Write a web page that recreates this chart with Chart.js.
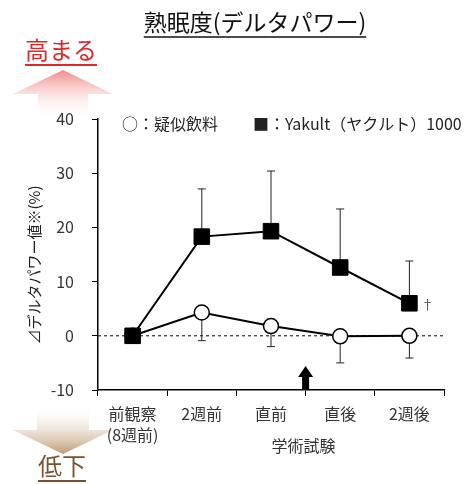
<!DOCTYPE html>
<html>
<head>
<meta charset="utf-8">
<script src="https://cdn.jsdelivr.net/npm/chart.js@4/dist/chart.umd.min.js"></script>
<style>
  html, body { margin: 0; padding: 0; background: #fff; }
  canvas { display: block; }
</style>
</head>
<body>
<canvas id="sleepChart" width="472" height="484"></canvas>
<script>
/* ── Data ── */
const categories  = [['前観察', '(8週前)'], '2週前', '直前', '直後', '2週後'];
const placebo     = [0, 4.3, 1.8, -0.1, 0];
const placeboLow  = [null, -0.9, -2.0, -5.0, -4.1];   // lower end of error bar
const yakult      = [0, 18.3, 19.3, 12.6, 6.0];
const yakultHigh  = [null, 27.1, 30.4, 23.4, 13.8];   // upper end of error bar
const yMin = -10, yMax = 40, yStep = 10;

const FONT = '"Noto Sans CJK JP", "Noto Sans", sans-serif';

/* ── Helpers ── */
function underlinedText(ctx, text, x, y, font, color, align, lineY, lw) {
  ctx.save();
  ctx.font = font;
  ctx.fillStyle = color;
  ctx.textAlign = align;
  ctx.textBaseline = 'middle';
  ctx.fillText(text, x, y);
  const w = ctx.measureText(text).width;
  const x0 = align === 'center' ? x - w / 2 : x;
  ctx.strokeStyle = color;
  ctx.lineWidth = lw;
  ctx.beginPath();
  ctx.moveTo(x0, lineY);
  ctx.lineTo(x0 + w, lineY);
  ctx.stroke();
  ctx.restore();
}

function blockArrow(ctx, cx, shaftTop, shaftBot, headBase, tip, shaftHalf, headHalf, grad) {
  ctx.save();
  ctx.fillStyle = grad;
  ctx.beginPath();
  if (tip < headBase) {            // pointing up
    ctx.moveTo(cx, tip);
    ctx.lineTo(cx + headHalf, headBase);
    ctx.lineTo(cx + shaftHalf, headBase);
    ctx.lineTo(cx + shaftHalf, shaftBot);
    ctx.lineTo(cx - shaftHalf, shaftBot);
    ctx.lineTo(cx - shaftHalf, headBase);
    ctx.lineTo(cx - headHalf, headBase);
  } else {                         // pointing down
    ctx.moveTo(cx, tip);
    ctx.lineTo(cx + headHalf, headBase);
    ctx.lineTo(cx + shaftHalf, headBase);
    ctx.lineTo(cx + shaftHalf, shaftTop);
    ctx.lineTo(cx - shaftHalf, shaftTop);
    ctx.lineTo(cx - shaftHalf, headBase);
    ctx.lineTo(cx - headHalf, headBase);
  }
  ctx.closePath();
  ctx.fill();
  ctx.restore();
}

/* ── Decorations plugin ── */
const decorations = {
  id: 'decorations',
  beforeDraw(chart) {
    const ctx = chart.ctx;
    // pink "up" arrow
    let g = ctx.createLinearGradient(0, 70, 0, 120);
    g.addColorStop(0, 'rgba(240,125,125,0.9)');
    g.addColorStop(1, 'rgba(255,255,255,0)');
    blockArrow(ctx, 63, 94, 120, 94, 70, 25, 50, g);
    // brown "down" arrow
    g = ctx.createLinearGradient(0, 403, 0, 454);
    g.addColorStop(0, 'rgba(255,255,255,0)');
    g.addColorStop(1, 'rgba(190,150,110,0.95)');
    blockArrow(ctx, 63, 403, 430, 430, 454, 26, 50, g);
  },
  beforeDatasetsDraw(chart) {
    const ctx = chart.ctx;
    const { x, y } = chart.scales;
    const area = chart.chartArea;
    ctx.save();
    // zero reference line
    ctx.strokeStyle = '#000';
    ctx.lineWidth = 1;
    ctx.setLineDash([3, 3]);
    ctx.beginPath();
    ctx.moveTo(area.left, y.getPixelForValue(0));
    ctx.lineTo(area.right, y.getPixelForValue(0));
    ctx.stroke();
    ctx.setLineDash([]);
    // error bars
    ctx.strokeStyle = '#222';
    ctx.lineWidth = 1;
    const bar = (i, from, to) => {
      const px = x.getPixelForValue(i);
      const y0 = y.getPixelForValue(from), y1 = y.getPixelForValue(to);
      ctx.beginPath();
      ctx.moveTo(px, y0); ctx.lineTo(px, y1);
      ctx.moveTo(px - 4, y1); ctx.lineTo(px + 4, y1);
      ctx.stroke();
    };
    yakultHigh.forEach((v, i) => { if (v !== null) bar(i, yakult[i], v); });
    placeboLow.forEach((v, i) => { if (v !== null) bar(i, placebo[i], v); });
    ctx.restore();
  },
  afterDraw(chart) {
    const ctx = chart.ctx;
    const { x, y } = chart.scales;
    const area = chart.chartArea;

    underlinedText(ctx, '熟眠度(デルタパワー)', 255, 22, '23px ' + FONT, '#111', 'center', 37, 1.5);
    underlinedText(ctx, '高まる', 25, 50, '24px ' + FONT, '#dc2a2a', 'left', 65, 2);
    underlinedText(ctx, '低下', 38, 466, '24px ' + FONT, '#7a5230', 'left', 481, 2);

    ctx.save();
    ctx.fillStyle = '#222';
    ctx.textBaseline = 'middle';
    ctx.textAlign = 'left';
    ctx.font = '16px ' + FONT;
    ctx.fillText('○：疑似飲料', 122, 124);
    ctx.fillText('■：Yakult（ヤクルト）1000', 253, 124);

    // y-axis title
    ctx.save();
    ctx.translate(34, 265);
    ctx.rotate(-Math.PI / 2);
    ctx.textAlign = 'center';
    ctx.font = '15px ' + FONT;
    ctx.fillText('⊿デルタパワー値※(%)', 0, 0);
    ctx.restore();

    // exam marker
    ctx.textAlign = 'center';
    ctx.fillStyle = '#333';
    ctx.font = '16px ' + FONT;
    const examX = (x.getPixelForValue(2) + x.getPixelForValue(3)) / 2;
    ctx.fillText('学術試験', examX - 2, 446);

    // dagger
    ctx.fillStyle = '#555';
    ctx.font = '13px ' + FONT;
    ctx.fillText('†', x.getPixelForValue(4) + 18, y.getPixelForValue(yakult[4]) + 1);

    // black arrow on the exam point
    ctx.fillStyle = '#000';
    ctx.beginPath();
    const b = area.bottom;
    ctx.moveTo(examX, b - 24);
    ctx.lineTo(examX + 7.5, b - 13);
    ctx.lineTo(examX + 3.5, b - 13);
    ctx.lineTo(examX + 3.5, b);
    ctx.lineTo(examX - 3.5, b);
    ctx.lineTo(examX - 3.5, b - 13);
    ctx.lineTo(examX - 7.5, b - 13);
    ctx.closePath();
    ctx.fill();
    ctx.restore();
  },
};

/* ── Chart ── */
const sleepChart = new Chart(document.getElementById('sleepChart').getContext('2d'), {
  type: 'line',
  data: {
    labels: categories,
    datasets: [
      {
        label: 'Yakult（ヤクルト）1000',
        data: yakult,
        borderColor: '#000',
        borderWidth: 2,
        pointStyle: 'rect',
        pointRadius: 11,
        pointBackgroundColor: '#000',
        pointBorderColor: '#000',
        pointBorderWidth: 1,
        tension: 0,
        order: 0,
      },
      {
        label: '疑似飲料',
        data: placebo,
        borderColor: '#000',
        borderWidth: 2,
        pointStyle: 'circle',
        pointRadius: 7.5,
        pointBackgroundColor: '#fff',
        pointBorderColor: '#000',
        pointBorderWidth: 1.5,
        tension: 0,
        order: 1,
      },
    ],
  },
  options: {
    responsive: false,
    animation: false,
    layout: { padding: { top: 119, right: 28, left: 0, bottom: 0 } },
    plugins: { legend: { display: false }, tooltip: { enabled: false }, title: { display: false } },
    scales: {
      x: {
        offset: true,
        grid: { drawOnChartArea: false, tickLength: 6, color: '#000', offset: true },
        border: { color: '#000', width: 1.5 },
        ticks: {
          color: '#333',
          font: { family: FONT, size: 16, lineHeight: 1.3 },
          padding: 8,
          maxRotation: 0,
          autoSkip: false,
        },
        afterFit: s => { s.height = 94; },
      },
      y: {
        min: yMin,
        max: yMax,
        grid: { drawOnChartArea: false, tickLength: 6, color: '#000' },
        border: { color: '#000', width: 1.5 },
        ticks: {
          stepSize: yStep,
          color: '#333',
          font: { family: FONT, size: 16 },
          padding: 18,
        },
        afterFit: s => { s.width = 98; },
      },
    },
  },
  plugins: [decorations],
});
</script>
</body>
</html>
